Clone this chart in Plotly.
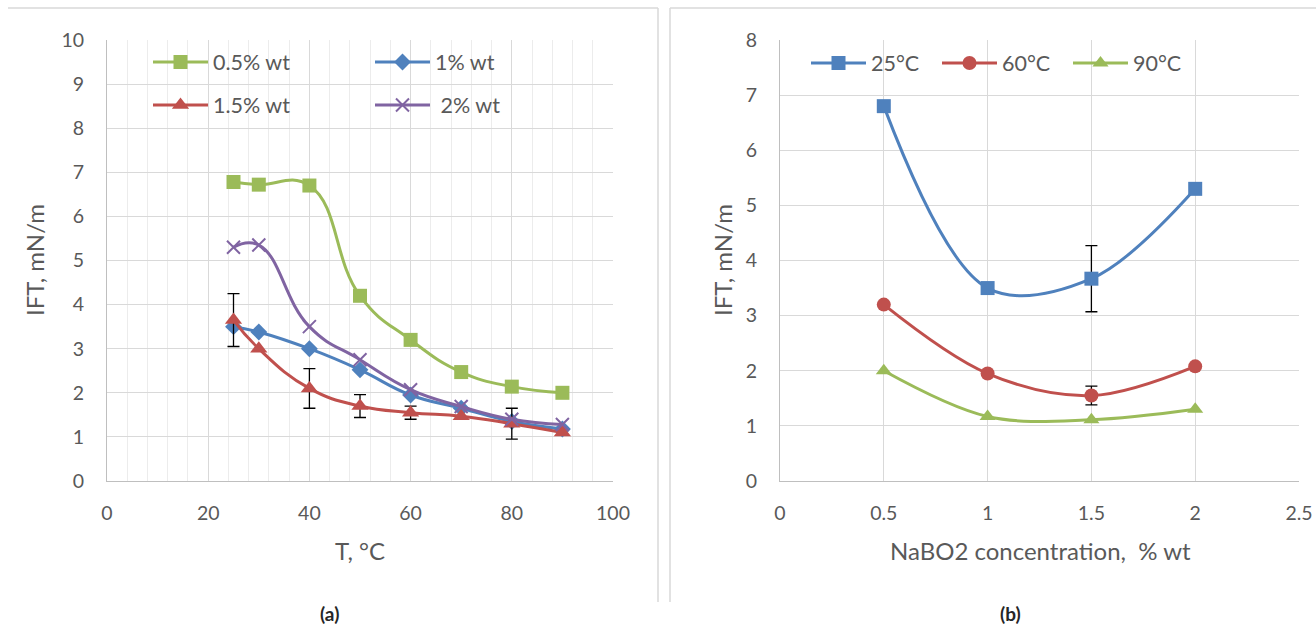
import plotly.graph_objects as go

# ---------------- data: panel (a) ----------------
temp_c = [25, 30, 40, 50, 60, 70, 80, 90]
ift_05 = [6.78, 6.72, 6.70, 4.20, 3.20, 2.47, 2.14, 2.00]
ift_10 = [3.50, 3.38, 3.00, 2.52, 1.95, 1.65, 1.35, 1.18]
ift_15 = [3.65, 3.00, 2.10, 1.70, 1.55, 1.47, 1.30, 1.10]
ift_20 = [5.30, 5.35, 3.50, 2.75, 2.07, 1.69, 1.40, 1.28]
err_15 = [0.60, None, 0.45, 0.26, 0.15, None, 0.35, None]
names_a = ["0.5% wt", "1% wt", "1.5% wt", " 2% wt"]

# ---------------- data: panel (b) ----------------
conc = [0.5, 1.0, 1.5, 2.0]
ift_25c = [6.80, 3.50, 3.67, 5.30]
ift_60c = [3.20, 1.95, 1.55, 2.08]
ift_90c = [2.00, 1.17, 1.11, 1.30]
err_25c = [None, None, 0.60, None]
err_60c = [None, None, 0.17, None]
names_b = ["25°C", "60°C", "90°C"]

xticks_a = [0, 20, 40, 60, 80, 100]
yticks_a = list(range(0, 11))
xticks_b = [0, 0.5, 1, 1.5, 2, 2.5]
yticks_b = list(range(0, 9))

# ---------------- style ----------------
W, H = 1316, 631
GREEN, BLUE, RED, PURPLE = "#9BBB59", "#4F81BD", "#C0504D", "#8064A2"
GRID, MINOR, AXLINE, TXT = "#D9D9D9", "#ECECEC", "#BFBFBF", "#595959"
FONT = "Lato"
SMOOTH_A = 1.3
SMOOTH_B = 1.0


def px(x):
    return x / W


def py(y):
    return 1 - y / H


fig = go.Figure()


def err_trace(xs, ys, errs, xa, ya):
    sel = [i for i, e in enumerate(errs) if e is not None]
    return go.Scatter(
        x=[xs[i] for i in sel], y=[ys[i] for i in sel], mode="markers",
        marker=dict(size=1, opacity=0), showlegend=False, hoverinfo="skip",
        error_y=dict(type="data", array=[errs[i] for i in sel], symmetric=True,
                     color="black", thickness=1.3, width=6),
        xaxis=xa, yaxis=ya)


# panel (a)
series_a = [
    (ift_05, GREEN, dict(symbol="square", size=14), "legend"),
    (ift_10, BLUE, dict(symbol="diamond", size=13), "legend"),
    (ift_15, RED, dict(symbol="triangle-up", size=15), "legend2"),
    (ift_20, PURPLE, dict(symbol="x-thin", size=13, line=dict(width=2, color=PURPLE)), "legend2"),
]
for (vals, col, mk, lg), nm in zip(series_a, names_a):
    if vals is ift_15:
        fig.add_trace(err_trace(temp_c, ift_15, err_15, "x", "y"))
    fig.add_trace(go.Scatter(
        x=temp_c, y=vals, name=nm, mode="lines+markers",
        line=dict(color=col, width=3, shape="spline", smoothing=SMOOTH_A),
        marker=dict(color=col, **mk), xaxis="x", yaxis="y", legend=lg))

# panel (b)
series_b = [
    (ift_25c, BLUE, dict(symbol="square", size=14), err_25c),
    (ift_60c, RED, dict(symbol="circle", size=14), err_60c),
    (ift_90c, GREEN, dict(symbol="triangle-up", size=14), None),
]
for (vals, col, mk, errs), nm in zip(series_b, names_b):
    if errs is not None:
        fig.add_trace(err_trace(conc, vals, errs, "x2", "y2"))
    fig.add_trace(go.Scatter(
        x=conc, y=vals, name=nm, mode="lines+markers",
        line=dict(color=col, width=3, shape="spline", smoothing=SMOOTH_B),
        marker=dict(color=col, **mk), xaxis="x2", yaxis="y2", legend="legend3"))

tickfont = dict(family=FONT, size=19.5, color=TXT)
common_x = dict(showgrid=True, gridcolor=GRID, gridwidth=1, zeroline=False,
                showline=True, linecolor=AXLINE, linewidth=1, ticks="",
                tickfont=tickfont, ticklabelstandoff=15, fixedrange=True,
                automargin=False)
common_y = dict(showgrid=True, gridcolor=GRID, gridwidth=1, zeroline=False,
                showline=True, linecolor=AXLINE, linewidth=1, ticks="",
                tickfont=tickfont, ticklabelstandoff=18, fixedrange=True,
                automargin=False)

legfont = dict(family=FONT, size=21.5, color=TXT)
leg_common = dict(orientation="h", xanchor="left", yanchor="middle",
                  bgcolor="rgba(0,0,0,0)", borderwidth=0, font=legfont,
                  entrywidthmode="pixels", itemwidth=55, traceorder="normal")

fig.update_layout(
    width=W, height=H,
    margin=dict(l=0, r=0, t=0, b=0, pad=0, autoexpand=False),
    paper_bgcolor="white", plot_bgcolor="white",
    font=dict(family=FONT, color=TXT),
    xaxis=dict(domain=[px(107), px(613)], range=[0, 100], tickvals=xticks_a,
               minor=dict(dtick=4, showgrid=True, gridcolor=MINOR, gridwidth=1),
               anchor="y", **common_x),
    yaxis=dict(domain=[py(481), py(40)], range=[0, 10], tickvals=yticks_a,
               anchor="x", **common_y),
    xaxis2=dict(domain=[px(780), px(1299)], range=[0, 2.5], tickvals=xticks_b,
                tickformat="~g", anchor="y2", **common_x),
    yaxis2=dict(domain=[py(481), py(40)], range=[0, 8], tickvals=yticks_b,
                anchor="x2", **common_y),
    legend=dict(x=px(148), y=py(62), entrywidth=152, **leg_common),
    legend2=dict(x=px(148), y=py(105), entrywidth=152, **leg_common),
    legend3=dict(x=px(806), y=py(63), entrywidth=61, **leg_common),
    showlegend=True,
)

titlefont = dict(family=FONT, size=24, color=TXT)
ann = [
    dict(text="T, °C", x=px(360), y=py(550), font=titlefont),
    dict(text="NaBO2 concentration,  % wt", x=px(1040), y=py(550), font=titlefont),
    dict(text="IFT, mN/m", x=px(34), y=py(260), font=titlefont, textangle=-90),
    dict(text="IFT, mN/m", x=px(722), y=py(260), font=titlefont, textangle=-90),
    dict(text="<b>(a)</b>", x=px(329), y=py(613), font=dict(family=FONT, size=19, color="#262626")),
    dict(text="<b>(b)</b>", x=px(1011), y=py(613), font=dict(family=FONT, size=19, color="#262626")),
]
for a in ann:
    fig.add_annotation(xref="paper", yref="paper", showarrow=False,
                       xanchor="center", yanchor="middle", **a)

# chart-area frames
FRAME = "#D9D9D9"
for x0, y0, x1, y1 in [(8, 8, 658, 8), (658, 8, 658, 602), (670, 8, 1316, 8), (670, 8, 670, 602)]:
    fig.add_shape(type="line", xref="paper", yref="paper",
                  x0=px(x0), y0=py(y0), x1=px(x1), y1=py(y1),
                  line=dict(color=FRAME, width=1.5))

fig.write_html("out.html")
